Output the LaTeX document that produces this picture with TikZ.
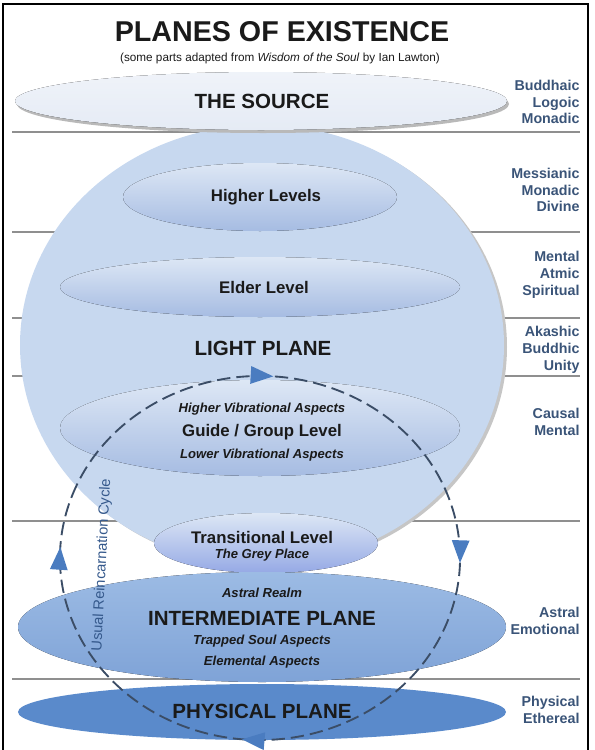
\documentclass[tikz,border=0pt]{standalone}
\usepackage{fontspec}
\setmainfont{Liberation Sans}
\usetikzlibrary{decorations.markings,arrows.meta}

\definecolor{sphereblue}{HTML}{C7D8EF}
\definecolor{lvltop}{HTML}{DDE7F5}
\definecolor{lvlbot}{HTML}{A6BCE2}
\definecolor{midtop}{HTML}{9CBBE4}
\definecolor{midbot}{HTML}{7FA3D7}
\definecolor{physblue}{HTML}{5A8ACB}
\definecolor{srcfill}{HTML}{E5EBF5}
\definecolor{labelblue}{HTML}{3A5478}
\definecolor{cycleline}{HTML}{3B4D66}
\definecolor{cyclearrow}{HTML}{4A7CC0}
\definecolor{cycletext}{HTML}{35598C}
\definecolor{rulegray}{HTML}{8F8F8F}
\definecolor{inkblack}{HTML}{1A1A1A}

\tikzset{every picture/.style={line width=0.75pt}}

\begin{document}
\begin{tikzpicture}[x=0.75pt,y=0.75pt,yscale=-1,xscale=1,
    planename/.style={text=inkblack,font=\bfseries\fontsize{15.4}{18}\selectfont},
    levelname/.style={text=inkblack,font=\bfseries\fontsize{12.6}{15}\selectfont},
    aspect/.style={text=inkblack,font=\bfseries\itshape\fontsize{9.8}{12}\selectfont},
    sidelabel/.style={anchor=east,align=right,text=labelblue,inner sep=0pt,
        font=\bfseries\fontsize{10.7}{12.6}\selectfont},
    levelfill/.style={top color=lvltop,bottom color=lvlbot},
    cyclepath/.style={draw=cycleline,line width=1.4pt,dash pattern={on 10pt off 4.5pt}},
    cycletip/.style={cyclearrow},
    ]
\useasboundingbox (0,0) rectangle (594,750);

% frame
\draw [line width=2pt] (3,752) -- (3,4) -- (588,4) -- (588,752);

% plane boundaries
\foreach \yy in {132,232,318,376,521,679}
    \draw [rulegray,line width=0.9pt] (12,\yy) -- (580,\yy);

% light plane sphere
\fill [gray!45] (265,347) ellipse [x radius=242, y radius=220];
\fill [sphereblue] (262,345) ellipse [x radius=242, y radius=220];

% the source
\fill [gray!55] (263,104) ellipse [x radius=246, y radius=29];
\fill [top color=srcfill!60!white,bottom color=srcfill] (261,101) ellipse [x radius=246, y radius=29];

% levels inside the light plane
\fill [levelfill] (260,197) ellipse [x radius=137, y radius=34];
\fill [levelfill] (260,287) ellipse [x radius=200, y radius=30];
\fill [levelfill] (260,428) ellipse [x radius=200, y radius=48];
\fill [top color=lvltop,bottom color=lvlbot!90!blue] (266,543) ellipse [x radius=112, y radius=30];

% intermediate and physical planes
\fill [top color=midtop,bottom color=midbot] (262,627) ellipse [x radius=244, y radius=55];
\fill [physblue] (262,712) ellipse [x radius=244, y radius=28];

% reincarnation cycle
\draw [cyclepath,
    postaction={decorate,decoration={markings,
        mark=at position 0.208 with {\arrow[cycletip]{Triangle[length=17pt,width=13pt]}},
        mark=at position 0.451 with {\arrow[cycletip]{Triangle[length=17pt,width=13pt]}},
        mark=at position 0.712 with {\arrow[cycletip]{Triangle[length=17pt,width=13pt]}},
        mark=at position 0.956 with {\arrow[cycletip]{Triangle[length=17pt,width=13pt]}}}}]
    (260,558) ++(200:200 and 182) arc [start angle=200, end angle=560, x radius=200, y radius=182];
\node (cyclelabel) [text=cycletext,rotate=87,font=\fontsize{11}{12}\selectfont] at (102,565) {Usual Reincarnation Cycle};

% titles
\node (title) [text=inkblack,font=\bfseries\fontsize{21.5}{24}\selectfont] at (282,32) {PLANES OF EXISTENCE};
\node (subtitle) [text=inkblack,font=\fontsize{8.8}{10}\selectfont] at (280,58) {(some parts adapted from \textit{Wisdom of the Soul} by Ian Lawton)};

% plane and level names
\node (source) [planename] at (262,101) {THE SOURCE};
\node (higher) [levelname] at (266,197) {Higher Levels};
\node (elder) [levelname] at (264,287) {Elder Level};
\node (light) [planename] at (263,348) {LIGHT PLANE};
\node (highvib) [aspect] at (262,409) {Higher Vibrational Aspects};
\node (guide) [levelname] at (262,432) {Guide / Group Level};
\node (lowvib) [aspect] at (262,455) {Lower Vibrational Aspects};
\node (trans) [levelname] at (262,537) {Transitional Level};
\node (grey) [aspect] at (262,555) {The Grey Place};
\node (astral) [aspect] at (262,593) {Astral Realm};
\node (inter) [planename] at (262,618) {INTERMEDIATE PLANE};
\node (trapped) [aspect] at (262,641) {Trapped Soul Aspects};
\node (elemental) [aspect] at (262,662) {Elemental Aspects};
\node (phys) [planename] at (262,711) {PHYSICAL PLANE};

% esoteric names on the right
\node (sourcenames) [sidelabel] at (580,102) {Buddhaic\\Logoic\\Monadic};
\node (highernames) [sidelabel] at (580,190) {Messianic\\Monadic\\Divine};
\node (eldernames) [sidelabel] at (580,275) {Mental\\Atmic\\Spiritual};
\node (lightnames) [sidelabel] at (580,350) {Akashic\\Buddhic\\Unity};
\node (guidenames) [sidelabel] at (580,422) {Causal\\Mental};
\node (internames) [sidelabel] at (580,621) {Astral\\Emotional};
\node (physnames) [sidelabel] at (580,710) {Physical\\Ethereal};
\end{tikzpicture}
\end{document}
